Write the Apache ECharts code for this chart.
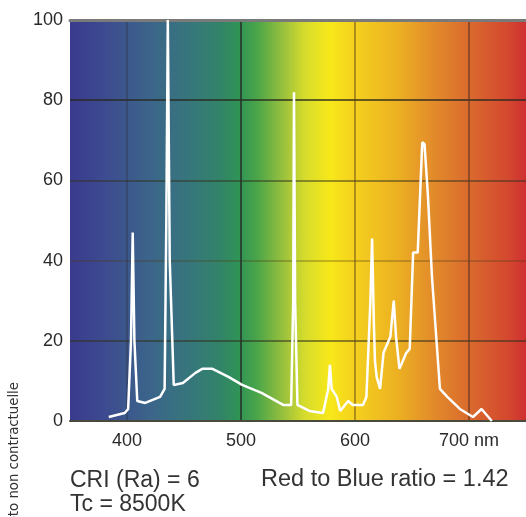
<!DOCTYPE html>
<html>
<head>
<meta charset="utf-8">
<script src="https://cdn.jsdelivr.net/npm/echarts@6/dist/echarts.min.js"></script>
<style>
html,body{margin:0;padding:0;background:#fff;}
#chart{width:526px;height:517px;}
</style>
</head>
<body>
<div id="chart"></div>
<script>
// Wavelength (nm) and relative intensity (%)
var wavelengths = [384, 398, 401, 403.5, 405, 406.5, 409, 416, 429, 433, 434.5, 435.8, 437.5, 441, 449, 460, 466, 475, 489, 501, 518, 537, 544, 545.8, 546.5, 547.5, 549.5, 560, 572, 576.5, 578, 579.5, 584, 587, 594, 598, 607, 610, 613.5, 615, 616.5, 617.5, 619, 622, 625, 631, 634, 636, 639, 645, 648, 651, 655, 659, 661, 664, 667.5, 670, 674.5, 681, 692, 703.5, 711, 720];
var intensities = [1, 2, 3, 20, 47, 20, 5, 4.5, 6, 8, 50, 100, 40, 9, 9.5, 12, 13, 13, 11, 9, 7, 4, 4, 30, 82, 30, 4, 2.5, 2, 8, 14, 8, 6, 2.5, 5, 4, 4, 6, 30, 45.5, 25, 15, 11, 8, 17, 21, 30, 21, 13, 17, 18, 42, 42, 69.5, 69, 56, 36, 26, 8, 6, 3, 1, 3, 0];
var yTicks = [0, 20, 40, 60, 80, 100];
var xTickLabels = {400: '400', 500: '500', 600: '600', 700: '700 nm'};
var infoLeft = ['CRI (Ra) = 6', 'Tc = 8500K'];
var infoRight = 'Red to Blue ratio = 1.42';
var sideNote = 'Photo non contractuelle';

var spectrum = wavelengths.map(function (w, i) { return [w, intensities[i]]; });

var chart = echarts.init(document.getElementById('chart'), null, {renderer: 'canvas'});
var labelFont = {fontFamily: 'Liberation Sans, Arial, sans-serif', fontSize: 18, color: '#2a2a2a'};
var infoFont = '23px "Liberation Sans", Arial, sans-serif';

var option = {
  animation: false,
  backgroundColor: '#ffffff',
  grid: {
    left: 70, right: 0, top: 20, bottom: 96,
    show: true,
    borderWidth: 0,
    backgroundColor: new echarts.graphic.LinearGradient(0, 0, 1, 0, [
      {offset: 0.00, color: '#3a3a8e'},
      {offset: 0.08, color: '#3d4c90'},
      {offset: 0.18, color: '#3b668a'},
      {offset: 0.27, color: '#36787a'},
      {offset: 0.33, color: '#328468'},
      {offset: 0.37, color: '#2f9356'},
      {offset: 0.41, color: '#4aa54a'},
      {offset: 0.47, color: '#9cc23c'},
      {offset: 0.515, color: '#d6dc2c'},
      {offset: 0.57, color: '#f8e81a'},
      {offset: 0.625, color: '#f4d01e'},
      {offset: 0.72, color: '#ecb022'},
      {offset: 0.79, color: '#e38e2a'},
      {offset: 0.875, color: '#da6a2e'},
      {offset: 0.96, color: '#d4482f'},
      {offset: 1.00, color: '#cf3030'}
    ])
  },
  xAxis: [{
    type: 'value',
    min: 350, max: 750, interval: 50,
    axisLine: {show: true, onZero: false, lineStyle: {color: '#4a4a3c', width: 2}},
    axisTick: {show: false},
    axisLabel: Object.assign({
      margin: 11,
      showMinLabel: false, showMaxLabel: false,
      formatter: function (v) { return xTickLabels[v] || ''; }
    }, labelFont),
    splitLine: {
      show: true,
      lineStyle: {
        width: 2,
        color: ['rgba(0,0,0,0)', 'rgba(40,50,70,0.35)', 'rgba(0,0,0,0)', 'rgba(40,50,40,0.8)',
                'rgba(0,0,0,0)', 'rgba(90,60,20,0.45)', 'rgba(0,0,0,0)', 'rgba(90,50,30,0.55)', 'rgba(0,0,0,0)']
      }
    }
  }, {
    type: 'value',
    position: 'top',
    min: 350, max: 750, interval: 50,
    axisLine: {show: true, onZero: false, lineStyle: {color: '#7a7a7a', width: 3}},
    axisTick: {show: false},
    axisLabel: {show: false},
    splitLine: {show: false}
  }],
  yAxis: {
    type: 'value',
    min: 0, max: 100, interval: 20,
    axisLine: {show: false},
    axisTick: {show: false},
    axisLabel: Object.assign({margin: 7}, labelFont),
    splitLine: {
      show: true,
      lineStyle: {
        width: 2,
        color: ['rgba(0,0,0,0)', 'rgba(50,50,30,0.55)', 'rgba(80,60,20,0.3)', 'rgba(50,50,30,0.5)', 'rgba(40,40,30,0.7)', 'rgba(0,0,0,0)']
      }
    }
  },
  series: [{
    type: 'line',
    data: spectrum,
    symbol: 'none',
    clip: true,
    lineStyle: {color: '#ffffff', width: 2.5},
    z: 5
  }],
  graphic: [
    {type: 'text', left: 70, top: 469, style: {text: infoLeft[0], font: infoFont, fill: '#333'}},
    {type: 'text', left: 70, top: 493, style: {text: infoLeft[1], font: infoFont, fill: '#333'}},
    {type: 'text', left: 261, top: 468, style: {text: infoRight, font: '23.5px "Liberation Sans", Arial, sans-serif', fill: '#333'}},
    {type: 'text', x: 21, y: 382, rotation: Math.PI / 2,
     style: {text: sideNote, font: '13.3px "DejaVu Sans", sans-serif', fill: '#333', textAlign: 'right', textVerticalAlign: 'bottom'}}
  ]
};
chart.setOption(option);
</script>
</body>
</html>
